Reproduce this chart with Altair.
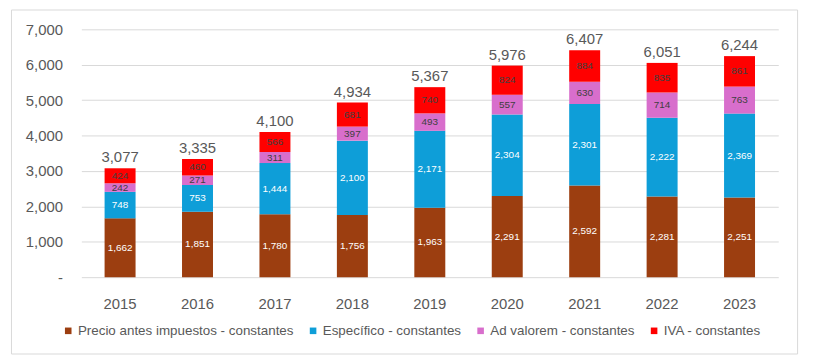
import altair as alt
import pandas as pd

years = ["2015", "2016", "2017", "2018", "2019", "2020", "2021", "2022", "2023"]
precio = [1662, 1851, 1780, 1756, 1963, 2291, 2592, 2281, 2251]
especifico = [748, 753, 1444, 2100, 2171, 2304, 2301, 2222, 2369]
ad_valorem = [242, 271, 311, 397, 493, 557, 630, 714, 763]
iva = [424, 460, 566, 681, 740, 824, 884, 835, 861]
totales = [3077, 3335, 4100, 4934, 5367, 5976, 6407, 6051, 6244]
y_ticks = [0, 1000, 2000, 3000, 4000, 5000, 6000, 7000]

series_names = [
    "Precio antes impuestos - constantes",
    "Específico - constantes",
    "Ad valorem - constantes",
    "IVA - constantes",
]
colors = ["#9C3E10", "#0E9ED8", "#D86ECC", "#FF0000"]
label_colors = ["#FFFFFF", "#FFFFFF", "#404040", "#404040"]

rows = []
for i, (name, vals) in enumerate(zip(series_names, [precio, especifico, ad_valorem, iva])):
    for yr, v in zip(years, vals):
        rows.append({"year": yr, "serie": name, "value": v, "ord": i, "lab_color": label_colors[i]})
df = pd.DataFrame(rows)
tot = pd.DataFrame({"year": years, "total": totales})

grey = "#595959"
y_scale = alt.Scale(domain=[0, 7000], nice=False)
x_scale = alt.Scale(paddingInner=0.6, paddingOuter=0.3)
x_axis = alt.Axis(labelAngle=0, ticks=False, domain=False, labelPadding=20,
                  labelFontSize=15, labelColor=grey, grid=False)
y_axis = alt.Axis(
    values=y_ticks,
    labelExpr="datum.value == 0 ? '-' : format(datum.value, ',')",
    ticks=False, domain=False, labelPadding=19, labelOverlap=False,
    grid=True, gridColor="#D9D9D9", labelFontSize=15, labelColor=grey,
)

bars = alt.Chart(df).mark_bar().encode(
    x=alt.X("year:N", title=None, scale=x_scale, axis=x_axis),
    y=alt.Y("value:Q", stack="zero", scale=y_scale, title=None, axis=y_axis),
    color=alt.Color(
        "serie:N",
        scale=alt.Scale(domain=series_names, range=colors),
        legend=alt.Legend(
            title=None, orient="none", legendX=-20, legendY=297,
            direction="horizontal", symbolType="square", symbolSize=44,
            symbolStrokeWidth=0, labelFontSize=13.5, labelColor=grey,
            labelOffset=3, columnPadding=12, padding=0, labelLimit=0,
        ),
    ),
    order=alt.Order("ord:Q", sort="ascending"),
)

seg = (
    alt.Chart(df)
    .transform_stack(stack="value", groupby=["year"], as_=["y0", "y1"],
                     sort=[alt.SortField("ord", order="ascending")])
    .transform_calculate(mid="(datum.y0 + datum.y1) / 2")
    .mark_text(fontSize=10, baseline="middle")
    .encode(
        x=alt.X("year:N", title=None, scale=x_scale, axis=x_axis),
        y=alt.Y("mid:Q", scale=y_scale, title=None, axis=y_axis),
        text=alt.Text("value:Q", format=","),
        color=alt.Color("lab_color:N", scale=None),
    )
)

tl = alt.Chart(tot).mark_text(fontSize=15, dy=-6, baseline="alphabetic", color=grey).encode(
    x=alt.X("year:N", title=None, scale=x_scale, axis=x_axis),
    y=alt.Y("total:Q", scale=y_scale, title=None, axis=y_axis),
    text=alt.Text("total:Q", format=","),
)

border = alt.Chart(pd.DataFrame({"k": [0]})).mark_rect(
    fill="transparent", stroke="#D9D9D9", strokeWidth=1
).encode(
    x=alt.value(-70.5), x2=alt.value(722.5), y=alt.value(-19.5), y2=alt.value(327.5)
)

chart = (
    alt.layer(border, bars, seg, tl)
    .properties(
        width=703,
        height=250,
        autosize=alt.AutoSizeParams(type="none"),
        padding={"left": 74, "top": 20, "right": 30, "bottom": 80},
    )
    .configure(font="Liberation Sans")
    .configure_view(stroke="transparent")
)

chart.save("out.html", embed_options={"renderer": "svg", "actions": False})
